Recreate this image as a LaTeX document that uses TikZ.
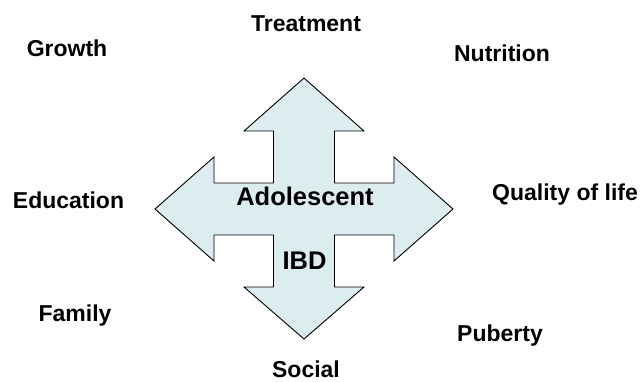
\documentclass[tikz,border=0pt]{standalone}
\usepackage{fontspec}
\setmainfont{Liberation Sans}
\definecolor{arrowfill}{RGB}{220,237,240}
\begin{document}
\begin{tikzpicture}[x=1pt,y=-1pt,
  lbl/.style={anchor=base,inner sep=0pt,font=\fontsize{23}{27}\selectfont\bfseries},
  mid/.style={anchor=base,inner sep=0pt,font=\fontsize{25.5}{30}\selectfont\bfseries}]
\useasboundingbox (0,0) rectangle (641,381);
\draw[fill=arrowfill,line width=0.9pt,line join=miter]
  (304,78) -- (364,131) -- (334.5,131) -- (334.5,183) -- (394,183) -- (394,157)
  -- (453,209) -- (394,261) -- (394,235) -- (334.5,235) -- (334.5,287) -- (364,287)
  -- (304,339) -- (244,287) -- (273.5,287) -- (273.5,235) -- (214,235) -- (214,261)
  -- (155,209) -- (214,157) -- (214,183) -- (273.5,183) -- (273.5,131) -- (244,131) -- cycle;
\node[mid] (adol) at (305,205) {Adolescent};
\node[mid] (ibd) at (304.5,269) {IBD};
\node[lbl] (growth) at (67,56) {Growth};
\node[lbl] (treat) at (306,31) {Treatment};
\node[lbl] (nutr) at (502,61.5) {Nutrition};
\node[lbl] (edu) at (68.5,208) {Education};
\node[lbl] (qol) at (565,200) {Quality of life};
\node[lbl] (fam) at (75,321.5) {Family};
\node[lbl] (pub) at (500,341.5) {Puberty};
\node[lbl] (soc) at (306,377.5) {Social};
\end{tikzpicture}
\end{document}
